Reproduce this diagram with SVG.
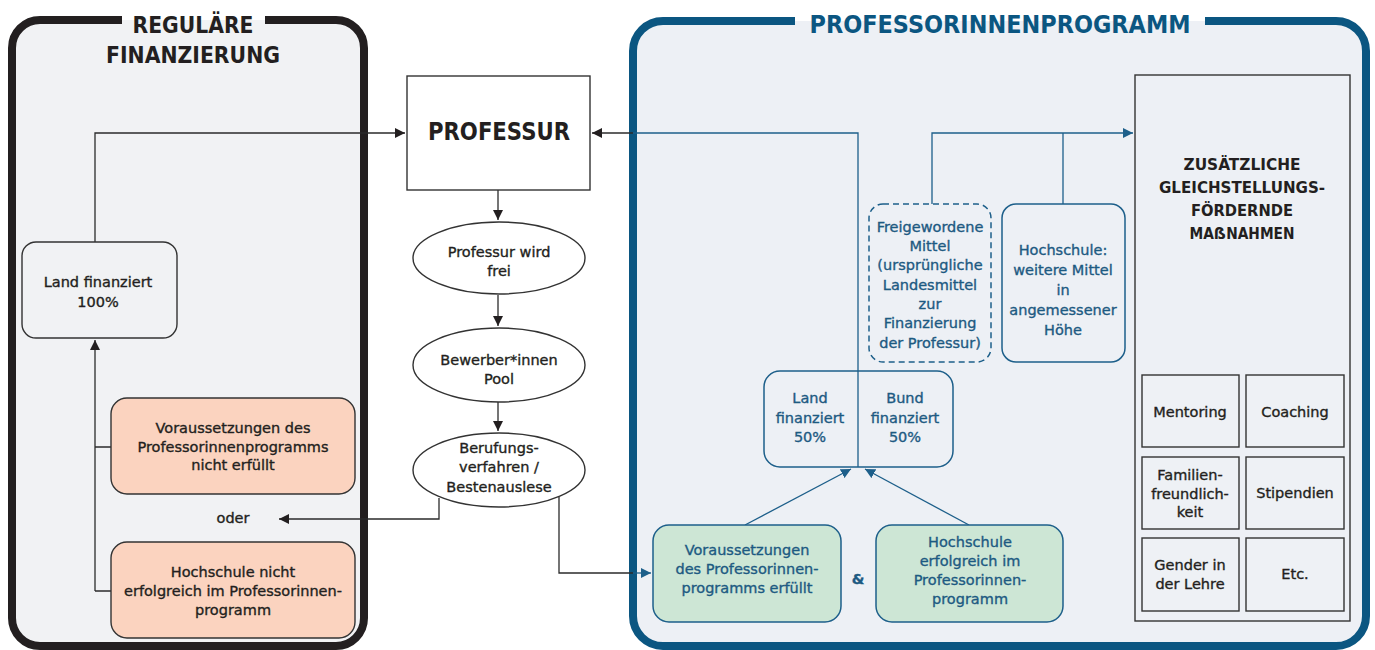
<svg xmlns="http://www.w3.org/2000/svg" width="1375" height="650" viewBox="0 0 1375 650">
<style>
.t{font-family:"DejaVu Sans",sans-serif;font-size:14.5px;fill:#231f20;text-anchor:middle;stroke:#231f20;stroke-width:0.35}
.tb{font-family:"DejaVu Sans",sans-serif;font-size:14.5px;fill:#1d5a82;text-anchor:middle;stroke:#1d5a82;stroke-width:0.35}
.h{font-family:"DejaVu Sans",sans-serif;font-weight:bold;fill:#231f20;text-anchor:middle}
.hb{font-family:"DejaVu Sans",sans-serif;font-weight:bold;fill:#0b5681;text-anchor:middle}
.dk{fill:none;stroke:#2b2b2b;stroke-width:1.3}
.bl{fill:none;stroke:#1d5f8a;stroke-width:1.3}
.nb{fill:none;stroke:#1d5f8a;stroke-width:1.5}
.nd{stroke:#333;stroke-width:1.4}
</style>
<defs>
<marker id="ad" viewBox="0 0 10 10" refX="10" refY="5" markerWidth="10" markerHeight="10" markerUnits="userSpaceOnUse" orient="auto"><path d="M0,0 L10,5 L0,10 z" fill="#231f20"/></marker>
<marker id="ab" viewBox="0 0 10 10" refX="10" refY="5" markerWidth="10" markerHeight="10" markerUnits="userSpaceOnUse" orient="auto"><path d="M0,0 L10,5 L0,10 z" fill="#1d5f8a"/></marker>
</defs>
<rect width="1375" height="650" fill="#fff"/>

<g id="container-left">
<rect x="12" y="20" width="352" height="626" rx="28" fill="#f1f2f4"/>
<path d="M122,20 H40 A28,28 0 0 0 12,48 V618 A28,28 0 0 0 40,646 H336 A28,28 0 0 0 364,618 V48 A28,28 0 0 0 336,20 H265" fill="none" stroke="#231f20" stroke-width="8"/>
<text class="h" x="193" y="33" font-size="23" textLength="121" lengthAdjust="spacingAndGlyphs">REGULÄRE</text>
<text class="h" x="193" y="63" font-size="23" textLength="174" lengthAdjust="spacingAndGlyphs">FINANZIERUNG</text>
</g>

<g id="container-right">
<rect x="633" y="21" width="733" height="625" rx="30" fill="#edf0f5"/>
<path d="M795,21 H663 A30,30 0 0 0 633,51 V616 A30,30 0 0 0 663,646 H1336 A30,30 0 0 0 1366,616 V51 A30,30 0 0 0 1336,21 H1205" fill="none" stroke="#0b5681" stroke-width="8"/>
<text class="hb" x="1000" y="33" font-size="25" textLength="381" lengthAdjust="spacingAndGlyphs">PROFESSORINNENPROGRAMM</text>
</g>

<g id="connectors">
<path class="dk" d="M95,242 V133 H405" marker-end="url(#ad)"/>
<path class="dk" d="M498,190 V220" marker-end="url(#ad)"/>
<path class="dk" d="M498,295 V326" marker-end="url(#ad)"/>
<path class="dk" d="M498,402 V431" marker-end="url(#ad)"/>
<path class="dk" d="M439,498 V519 H279" marker-end="url(#ad)"/>
<path class="dk" d="M95,591 V340" marker-end="url(#ad)"/>
<path class="dk" d="M95,447 H111 M95,591 H111"/>
<path class="dk" d="M559,497 V573 H633"/>
<path class="bl" d="M633,573 H651" marker-end="url(#ab)"/>
<path class="bl" d="M858,467 V133 H633"/>
<path class="dk" d="M633,133 H592" marker-end="url(#ad)"/>
<path class="bl" d="M932,204 V133 H1133" marker-end="url(#ab)"/>
<path class="bl" d="M1063,204 V133"/>
<path class="bl" d="M745,525 L851,469" marker-end="url(#ab)"/>
<path class="bl" d="M969,525 L865,469" marker-end="url(#ab)"/>
</g>

<g id="land-100">
<rect x="22" y="242" width="155" height="96" rx="14" fill="#f1f2f4" class="nd"/>
<text class="t" x="98" y="287">Land finanziert</text>
<text class="t" x="98" y="307">100%</text>
</g>

<g id="voraussetzungen-nicht">
<rect x="111" y="398" width="244" height="96" rx="16" fill="#fbd3bf" class="nd"/>
<text class="t" x="233" y="433">Voraussetzungen des</text>
<text class="t" x="233" y="452">Professorinnenprogramms</text>
<text class="t" x="233" y="470">nicht erfüllt</text>
</g>

<g id="oder">
<text class="t" x="233" y="523">oder</text>
</g>

<g id="hochschule-nicht">
<rect x="111" y="542" width="244" height="96" rx="16" fill="#fbd3bf" class="nd"/>
<text class="t" x="233" y="577">Hochschule nicht</text>
<text class="t" x="233" y="596">erfolgreich im Professorinnen-</text>
<text class="t" x="233" y="615">programm</text>
</g>

<g id="professur">
<rect x="407" y="76" width="183" height="114" fill="#fff" class="nd"/>
<text class="h" x="499" y="140" font-size="24" textLength="142" lengthAdjust="spacingAndGlyphs">PROFESSUR</text>
</g>

<g id="professur-frei">
<ellipse cx="499" cy="258" rx="86" ry="36" fill="#fff" class="nd"/>
<text class="t" x="499" y="257">Professur wird</text>
<text class="t" x="499" y="276">frei</text>
</g>

<g id="bewerber">
<ellipse cx="499" cy="365" rx="86" ry="37" fill="#fff" class="nd"/>
<text class="t" x="499" y="365">Bewerber*innen</text>
<text class="t" x="499" y="384">Pool</text>
</g>

<g id="berufung">
<ellipse cx="499" cy="470" rx="86" ry="37" fill="#fff" class="nd"/>
<text class="t" x="499" y="453">Berufungs-</text>
<text class="t" x="499" y="472">verfahren /</text>
<text class="t" x="499" y="492">Bestenauslese</text>
</g>

<g id="freigewordene">
<rect x="869" y="204" width="122" height="158" rx="14" class="nb" stroke-dasharray="6 4"/>
<text class="tb" x="930" y="232">Freigewordene</text>
<text class="tb" x="930" y="251">Mittel</text>
<text class="tb" x="930" y="270">(ursprüngliche</text>
<text class="tb" x="930" y="290">Landesmittel</text>
<text class="tb" x="930" y="309">zur</text>
<text class="tb" x="930" y="328">Finanzierung</text>
<text class="tb" x="930" y="348">der Professur)</text>
</g>

<g id="hochschule-mittel">
<rect x="1002" y="204" width="123" height="158" rx="14" class="nb"/>
<text class="tb" x="1063" y="255">Hochschule:</text>
<text class="tb" x="1063" y="275">weitere Mittel</text>
<text class="tb" x="1063" y="295">in</text>
<text class="tb" x="1063" y="315">angemessener</text>
<text class="tb" x="1063" y="335">Höhe</text>
</g>

<g id="land-bund">
<rect x="764" y="371" width="189" height="96" rx="16" class="nb"/>
<text class="tb" x="810" y="403">Land</text>
<text class="tb" x="810" y="423">finanziert</text>
<text class="tb" x="810" y="442">50%</text>
<text class="tb" x="905" y="403">Bund</text>
<text class="tb" x="905" y="423">finanziert</text>
<text class="tb" x="905" y="442">50%</text>
</g>

<g id="voraussetzungen-erfuellt">
<rect x="653" y="525" width="188" height="97" rx="16" fill="#cde6d5" stroke="#1d5f8a" stroke-width="1.5"/>
<text class="tb" x="747" y="555">Voraussetzungen</text>
<text class="tb" x="747" y="574">des Professorinnen-</text>
<text class="tb" x="747" y="593">programms erfüllt</text>
</g>

<g id="und">
<text class="tb" x="858" y="584" font-size="17" font-weight="bold">&amp;</text>
</g>

<g id="hochschule-erfolgreich">
<rect x="876" y="525" width="187" height="97" rx="16" fill="#cde6d5" stroke="#1d5f8a" stroke-width="1.5"/>
<text class="tb" x="970" y="547">Hochschule</text>
<text class="tb" x="970" y="566">erfolgreich im</text>
<text class="tb" x="970" y="585">Professorinnen-</text>
<text class="tb" x="970" y="604">programm</text>
</g>

<g id="massnahmen">
<rect x="1135" y="75" width="215" height="546" fill="none" class="nd"/>
<text class="h" x="1242" y="170" font-size="16" textLength="117" lengthAdjust="spacingAndGlyphs">ZUSÄTZLICHE</text>
<text class="h" x="1242" y="193" font-size="16" textLength="166" lengthAdjust="spacingAndGlyphs">GLEICHSTELLUNGS-</text>
<text class="h" x="1242" y="216" font-size="16" textLength="102" lengthAdjust="spacingAndGlyphs">FÖRDERNDE</text>
<text class="h" x="1242" y="239" font-size="16" textLength="105" lengthAdjust="spacingAndGlyphs">MAẞNAHMEN</text>
</g>

<g id="mentoring">
<rect x="1142" y="375" width="97" height="72" fill="#eef1f5" class="nd"/>
<text class="t" x="1190" y="417">Mentoring</text>
</g>
<g id="coaching">
<rect x="1246" y="375" width="98" height="72" fill="#eef1f5" class="nd"/>
<text class="t" x="1295" y="417">Coaching</text>
</g>
<g id="familien">
<rect x="1142" y="457" width="97" height="72" fill="#eef1f5" class="nd"/>
<text class="t" x="1190" y="480">Familien-</text>
<text class="t" x="1190" y="499">freundlich-</text>
<text class="t" x="1190" y="517">keit</text>
</g>
<g id="stipendien">
<rect x="1246" y="457" width="98" height="72" fill="#eef1f5" class="nd"/>
<text class="t" x="1295" y="498">Stipendien</text>
</g>
<g id="gender">
<rect x="1142" y="538" width="97" height="73" fill="#eef1f5" class="nd"/>
<text class="t" x="1190" y="570">Gender in</text>
<text class="t" x="1190" y="589">der Lehre</text>
</g>
<g id="etc">
<rect x="1246" y="538" width="98" height="73" fill="#eef1f5" class="nd"/>
<text class="t" x="1295" y="579">Etc.</text>
</g>
</svg>
